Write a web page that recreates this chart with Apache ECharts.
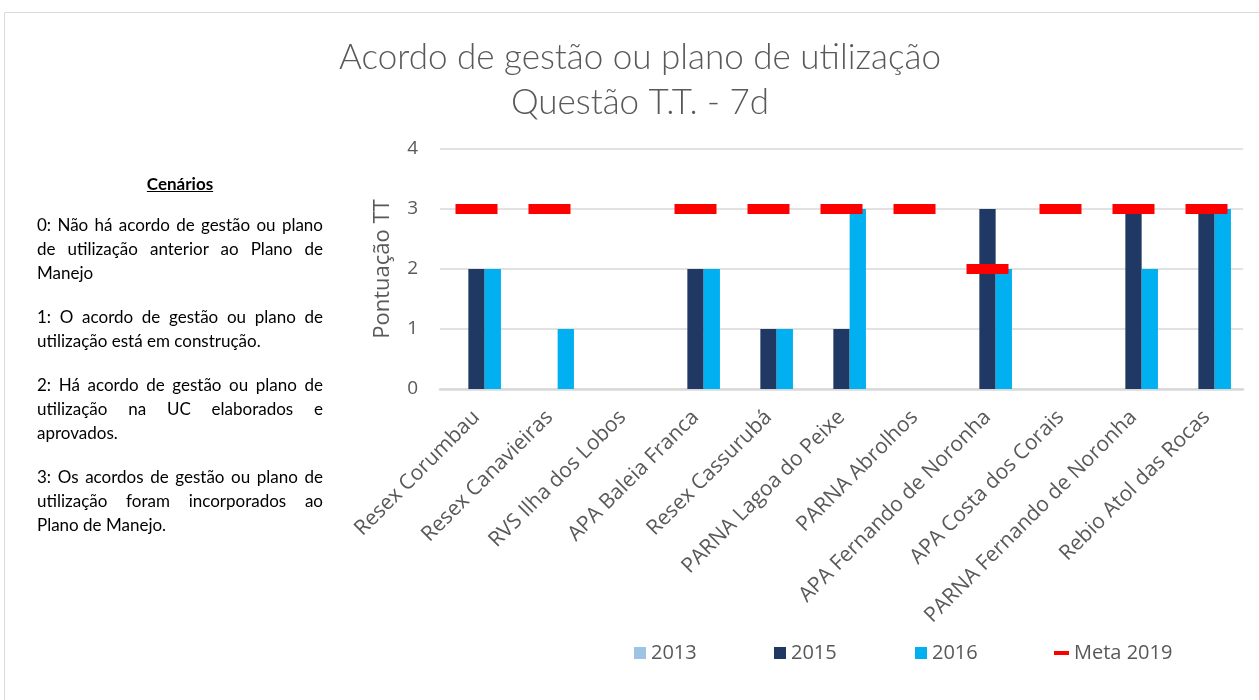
<!DOCTYPE html>
<html>
<head>
<meta charset="utf-8">
<script src="https://cdn.jsdelivr.net/npm/echarts@6/dist/echarts.min.js"></script>
<style>
  body { margin: 0; background: #fff; }
  #wrap { position: relative; width: 1259px; height: 700px; }
  #chart { width: 1259px; height: 700px; }
  #panel {
    position: absolute; left: 37px; top: 172px; width: 286px;
    font-family: Lato, "Noto Sans", sans-serif; font-size: 17px; color: #000;
    line-height: 24px;
  }
  #panel .head { text-align: center; font-weight: bold; text-decoration: underline; margin-bottom: 17px; }
  #panel p { margin: 0 0 20px 0; }
  #panel span { display: block; }
  #panel .j { text-align: justify; text-align-last: justify; }
</style>
</head>
<body>
<div id="wrap">
  <div id="chart"></div>
  <div id="panel">
    <div class="head">Cenários</div>
    <p>
      <span class="j">0: Não há acordo de gestão ou plano</span>
      <span class="j">de utilização anterior ao Plano de</span>
      <span>Manejo</span>
    </p>
    <p>
      <span class="j">1: O acordo de gestão ou plano de</span>
      <span>utilização está em construção.</span>
    </p>
    <p>
      <span class="j">2: Há acordo de gestão ou plano de</span>
      <span class="j">utilização na UC elaborados e</span>
      <span>aprovados.</span>
    </p>
    <p>
      <span class="j">3: Os acordos de gestão ou plano de</span>
      <span class="j">utilização foram incorporados ao</span>
      <span>Plano de Manejo.</span>
    </p>
  </div>
</div>
<script>
const categories = [
  "Resex Corumbau", "Resex Canavieiras", "RVS Ilha dos Lobos", "APA Baleia Franca",
  "Resex Cassurubá", "PARNA Lagoa do Peixe", "PARNA Abrolhos", "APA Fernando de Noronha",
  "APA Costa dos Corais", "PARNA Fernando de Noronha", "Rebio Atol das Rocas"
];
const values2013 = [0, 0, 0, 0, 0, 0, 0, 0, 0, 0, 0];
const values2015 = [2, 0, 0, 2, 1, 1, 0, 3, 0, 3, 3];
const values2016 = [2, 1, 0, 2, 1, 3, 0, 2, 0, 2, 3];
const meta2019 = [3, 3, null, 3, 3, 3, 3, 2, 3, 3, 3];
const yTicks = [0, 1, 2, 3, 4];

const txt = "#595959";
const font = "Open Sans";

const chart = echarts.init(document.getElementById("chart"));

const legendBase = {
  top: 638,
  itemWidth: 12,
  itemHeight: 12,
  itemGap: 0,
  textStyle: { color: txt, fontSize: 20, fontFamily: font },
  selectedMode: false
};

const option = {
  animation: false,
  textStyle: { fontFamily: font },
  title: {
    text: "Acordo de gestão ou plano de utilização\nQuestão T.T. - 7d",
    left: 640,
    top: 35,
    padding: 0,
    textAlign: "center",
    textStyle: { color: txt, fontSize: 35, fontWeight: 300, fontFamily: "Lato", lineHeight: 45 }
  },
  graphic: [{
    type: "rect",
    shape: { x: 4.5, y: 12.5, width: 1300, height: 800 },
    style: { fill: "none", stroke: "#d9d9d9", lineWidth: 1 },
    silent: true
  }],
  legend: [
    Object.assign({}, legendBase, { left: 629, data: [{ name: "2013", icon: "rect" }] }),
    Object.assign({}, legendBase, { left: 769, data: [{ name: "2015", icon: "rect" }] }),
    Object.assign({}, legendBase, { left: 910, data: [{ name: "2016", icon: "rect" }] }),
    Object.assign({}, legendBase, {
      left: 1049, itemWidth: 15,
      data: [{ name: "Meta 2019", icon: "path://M0,0M15,12M0,4H15V8H0Z" }]
    })
  ],
  grid: { left: 440, right: 16, top: 149, bottom: 311 },
  xAxis: {
    type: "category",
    data: categories,
    axisLine: { lineStyle: { color: "#d9d9d9", width: 2.5 } },
    axisTick: { show: false },
    axisLabel: { interval: 0, rotate: 45, color: txt, fontSize: 21, fontFamily: font, margin: 25 }
  },
  yAxis: {
    type: "value",
    min: yTicks[0],
    max: yTicks[yTicks.length - 1],
    interval: 1,
    name: "Pontuação TT",
    nameLocation: "middle",
    nameGap: 46,
    nameTextStyle: { color: txt, fontSize: 22, fontFamily: font },
    axisLine: { show: false },
    axisTick: { show: false },
    axisLabel: { color: txt, fontSize: 19, fontFamily: font, margin: 22 },
    splitLine: { lineStyle: { color: "#d9d9d9", width: 1.5 } }
  },
  series: [
    { name: "2013", type: "bar", data: values2013, barWidth: 16.3, barGap: "0%", itemStyle: { color: "#9dc3e6" } },
    { name: "2015", type: "bar", data: values2015, barWidth: 16.3, barGap: "0%", itemStyle: { color: "#203864" } },
    { name: "2016", type: "bar", data: values2016, barWidth: 16.3, barGap: "0%", itemStyle: { color: "#00b0f0" } },
    { name: "Meta 2019", type: "scatter", data: meta2019, symbol: "rect", symbolSize: [42, 10],
      itemStyle: { color: "#ff0000", opacity: 1 }, z: 5 }
  ]
};

chart.setOption(option);
</script>
</body>
</html>
